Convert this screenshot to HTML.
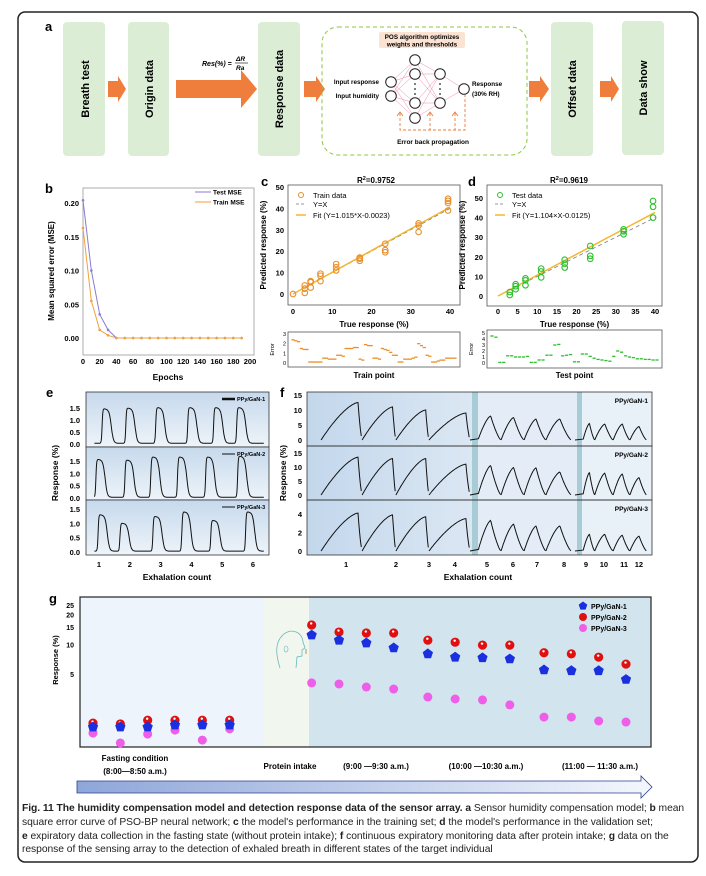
<!DOCTYPE html>
<html><head><meta charset="utf-8"><style>
body{margin:0;background:#fff}
svg{display:block}
text{font-family:"Liberation Sans",Arial,sans-serif}
#caption{position:absolute;left:22px;top:802px;width:672px;font-family:"Liberation Sans",Arial,sans-serif;font-size:10.3px;line-height:13.8px;color:#222;white-space:nowrap;letter-spacing:-0.05px}
</style></head><body>
<div style="position:relative;width:706px;height:876px">
<svg id="fig" width="706" height="876" viewBox="0 0 706 876">
<defs>
<linearGradient id="gE" x1="0" y1="0" x2="0" y2="1"><stop offset="0" stop-color="#c6d9ec"/><stop offset="1" stop-color="#eef4fa"/></linearGradient>
<linearGradient id="gF1" x1="0" y1="0" x2="1" y2="0"><stop offset="0" stop-color="#c3d7ec"/><stop offset="1" stop-color="#dbe7f3"/></linearGradient>
<linearGradient id="gArrow" x1="0" y1="0" x2="1" y2="0"><stop offset="0" stop-color="#8ea6d9"/><stop offset="1" stop-color="#f4f7fd"/></linearGradient>
</defs>
<rect x="18" y="12" width="680" height="850" rx="7" fill="none" stroke="#222" stroke-width="1.5"/>

<!-- Panel a -->
<g>
<text x="45" y="31" font-size="13" font-weight="bold">a</text>
<rect x="63" y="22" width="42" height="134" rx="4" fill="#dcedd6"/>
<text transform="translate(89,89) rotate(-90)" text-anchor="middle" font-size="11" font-weight="bold">Breath test</text>
<rect x="128" y="22" width="41" height="134" rx="4" fill="#dcedd6"/>
<text transform="translate(153,89) rotate(-90)" text-anchor="middle" font-size="11" font-weight="bold">Origin data</text>
<rect x="258" y="22" width="42" height="134" rx="4" fill="#dcedd6"/>
<text transform="translate(283,89) rotate(-90)" text-anchor="middle" font-size="11" font-weight="bold">Response data</text>
<rect x="551" y="22" width="42" height="134" rx="4" fill="#dcedd6"/>
<text transform="translate(576,89) rotate(-90)" text-anchor="middle" font-size="11" font-weight="bold">Offset data</text>
<rect x="622" y="21" width="42" height="134" rx="4" fill="#dcedd6"/>
<text transform="translate(647,88) rotate(-90)" text-anchor="middle" font-size="11" font-weight="bold">Data show</text>
<path d="M108,81 H118 V76 L126,89 L118,102 V97 H108 Z" fill="#ef7d3c"/>
<path d="M176,80 H241 V70 L257,89 L241,108 V98 H176 Z" fill="#ef7d3c"/>
<path d="M304,81 H316 V76 L325,89 L316,102 V97 H304 Z" fill="#ef7d3c"/>
<path d="M529,81 H540 V76 L549,89 L540,102 V97 H529 Z" fill="#ef7d3c"/>
<path d="M600,81 H611 V76 L619,89 L611,102 V97 H600 Z" fill="#ef7d3c"/>
<g font-size="7" font-weight="bold" font-style="italic">
<text x="202" y="66">Res(%) =</text>
<text x="236" y="61" font-size="6.5">ΔR</text>
<line x1="235" y1="63" x2="248" y2="63" stroke="#000" stroke-width="0.6"/>
<text x="236" y="70" font-size="6.5">Ra</text>
</g>
<rect x="322" y="27" width="205" height="128" rx="16" fill="none" stroke="#8cc63f" stroke-width="1" stroke-dasharray="4,3"/>
<rect x="379" y="32" width="86" height="16" rx="2" fill="#fbe3d3"/>
<text x="422" y="39" text-anchor="middle" font-size="6.3" font-weight="bold">POS algorithm optimizes</text>
<text x="422" y="46.5" text-anchor="middle" font-size="6.3" font-weight="bold">weights and thresholds</text>
<g id="net"></g>
<text x="379" y="84" text-anchor="end" font-size="6.3" font-weight="bold">Input response</text>
<text x="379" y="98" text-anchor="end" font-size="6.3" font-weight="bold">Input humidity</text>
<text x="472" y="86" font-size="6.3" font-weight="bold">Response</text>
<text x="472" y="96" font-size="6.3" font-weight="bold">(30% RH)</text>
<path d="M400,113 V130 H465 V95 M430,113 V130 M455,113 V130" fill="none" stroke="#ef7d3c" stroke-width="0.9" stroke-dasharray="3,2"/>
<path d="M397,116 L400,112 L403,116 M427,116 L430,112 L433,116 M452,116 L455,112 L458,116" fill="none" stroke="#ef7d3c" stroke-width="0.9"/>
<text x="433" y="144" text-anchor="middle" font-size="6.5" font-weight="bold">Error back propagation</text>
</g>

<g id="charts"></g>
</svg>
<div id="caption"><b>Fig. 11 The humidity compensation model and detection response data of the sensor array. a</b> Sensor humidity compensation model; <b>b</b> mean<br>square error curve of PSO-BP neural network; <b>c</b> the model's performance in the training set; <b>d</b> the model's performance in the validation set;<br><b>e</b> expiratory data collection in the fasting state (without protein intake); <b>f</b> continuous expiratory monitoring data after protein intake; <b>g</b> data on the<br>response of the sensing array to the detection of exhaled breath in different states of the target individual</div>
</div>
<script>
// ---------- data ----------
const bEpochs = [0,10,20,30,40,50,60,70,80,90,100,110,120,130,140,150,160,170,180,190];
const bTestMSE = [0.204,0.100,0.035,0.012,0,0,0,0,0,0,0,0,0,0,0,0,0,0,0,0];
const bTrainMSE = [0.163,0.055,0.012,0.004,0,0,0,0,0,0,0,0,0,0,0,0,0,0,0,0];
const bXTicks = [0,20,40,60,80,100,120,140,160,180,200];
const bYTicks = [0,0.05,0.10,0.15,0.20];

const cTrueX = [0,3,3,3,4.5,4.5,4.5,7,7,7,11,11,11,17,17,17,23.5,23.5,23.5,32,32,32,39.5,39.5,39.5,39.5];
const cPredY = [0,0.5,2.5,4,3,5.5,6,6,8.5,9.5,11,12.5,14,15.5,16.5,17,19.5,20.5,23.5,29,32,33,39,42.5,43.5,44.5];
const cFit = [1.015,-0.0023];
const cErr = [2.4,2.3,2.2,1.5,1.4,1.4,0.1,0.1,0.1,0.1,0.1,0.5,0.5,0.4,0.4,0.4,0.8,0.8,0.7,1.5,1.5,1.5,1.6,1.6,0.4,0.3,1.9,1.8,1.8,0.5,0.5,0.4,1.5,1.4,1.3,1.1,0.8,0.8,0.1,0.1,0.4,0.4,0.4,0.5,0.6,2.0,1.8,1.6,0.8,0.7,0.1,0.1,0.2,0.3,0.3,0.5,0.5,0.5,0.5];
const cXTicks = [0,10,20,30,40];
const cYTicks = [0,10,20,30,40,50];

const dTrueX = [3,3,4.5,4.5,4.5,7,7,7,11,11,11,17,17,17,23.5,23.5,23.5,32,32,32,39.5,39.5,39.5];
const dPredY = [0.5,2,3.5,5,6,5.5,8,9,9.5,12.5,14,14.5,16.5,18.5,19,20.5,25.5,31.5,33,34,40,45.5,48.5];
const dFit = [1.104,-0.0125];
const dErr = [4.5,4.3,0.1,0.1,1.2,1.2,1.0,1.0,1.0,1.1,0.1,0.1,0.5,0.5,1.3,1.3,3.0,3.1,1.2,1.3,1.4,0.2,0.2,1.5,1.5,1.1,0.8,0.6,0.5,0.4,0.3,1.1,2.0,1.8,1.2,1.0,0.9,0.7,0.7,0.6,0.6,0.5,0.5];
const dXTicks = [0,5,10,15,20,25,30,35,40];
const dYTicks = [0,10,20,30,40,50];

const eCenters1 = [1.26,2.03,3.0,4.04,4.88,5.63];
const ePeaks1 = [1.45,1.48,1.5,1.5,1.5,1.5];
const eCenters2 = [1.06,2.0,2.84,3.71,4.62,5.66];
const ePeaks2 = [1.55,1.52,1.65,1.65,1.65,1.68];
const eCenters3 = [1.13,1.84,2.91,3.85,4.79,5.92];
const ePeaks3 = [1.28,0.98,1.22,1.38,1.08,1.38];
const eXTicks = [1,2,3,4,5,6];
const eYTicks = [0,0.5,1.0,1.5];

const fValleys = [0.08,1.16,2.05,2.92,4.0,4.95,5.9,6.8,7.85,8.0,8.7,9.8,10.8,11.8];
const fPeaks1 = [12.5,11,10,9,8,7.5,7,7,5.5,5.3,5.3,4.5];
const fPeaks2 = [13.5,13,13,11,10.5,9.8,9.7,8.2,8,7.8,7.5,6.2];
const fPeaks3 = [4.1,3.9,3.7,3.5,3.3,2.9,2.7,2.7,1.8,1.8,1.7,1.6];
const fTickT = [0.74,2.05,2.92,3.6,4.37,5.44,6.43,7.55,8.18,9.25,10.45,11.34];
const fTickLabels = ['1','2','3','4','5','6','7','8','9','10','11','12'];

const gRed = [1.59,1.56,1.70,1.70,1.70,1.70,15.7,13.3,13.0,13.0,11.0,10.5,9.8,9.8,8.2,8.0,7.4,6.3];
const gBlue = [1.45,1.45,1.45,1.52,1.52,1.52,12.4,11.0,10.3,9.2,8.0,7.4,7.3,7.1,5.5,5.4,5.4,4.4];
const gMagenta = [1.26,1.0,1.23,1.35,1.07,1.39,4.06,3.96,3.69,3.52,2.92,2.79,2.73,2.43,1.83,1.83,1.67,1.63];
const gSlots = [0,1,2,3,4,5,8,9,10,11,12.25,13.25,14.25,15.25,16.5,17.5,18.5,19.5];
const gYTicks = [5,10,15,20,25];

// ---------- helpers ----------
const NS='http://www.w3.org/2000/svg';
const root=document.getElementById('charts');
function mk(parent,tag,attrs,name){
  const el=document.createElementNS(NS,tag);
  for(const k in attrs) el.setAttribute(k,attrs[k]);
  
  
  parent.appendChild(el);
  return el;
}
function txt(parent,x,y,s,size,anchor,name,bold=true,rot=0){
  const el=mk(parent,'text',{x:x,y:y,'font-size':size,'text-anchor':anchor,'font-weight':bold?'bold':'normal'},name);
  if(rot) el.setAttribute('transform',`rotate(${rot} ${x} ${y})`);
  el.textContent=s;
  return el;
}
function fmt(v,d){return v.toFixed(d);}

// ---------- neural net in panel a ----------
(function(){
  const net=document.getElementById('net');
  const L0=[[391,82],[391,96]], L1=[[415,60],[415,74],[415,103],[415,118]], L2=[[440,74],[440,103]], L3=[[464,89]];
  const conn=(A,B)=>{A.forEach(a=>B.forEach(b=>{mk(net,'line',{x1:a[0],y1:a[1],x2:b[0],y2:b[1],stroke:'#ee8ca8','stroke-width':0.5},'net-connection');}));};
  conn(L0,L1);conn(L1,L2);conn(L2,L3);
  [L0,L1,L2,L3].forEach(L=>L.forEach(p=>{mk(net,'circle',{cx:p[0],cy:p[1],r:5.3,fill:'#fff',stroke:'#222','stroke-width':1},'net-node');}));
  [[415,84],[415,89],[415,94],[440,84],[440,89],[440,94]].forEach(p=>{mk(net,'circle',{cx:p[0],cy:p[1],r:0.9,fill:'#222'},'net-ellipsis-dot');});
})();

// ---------- panel b ----------
(function(){
  const g=mk(root,'g',{},'panel-b');
  txt(g,45,193,'b',13,'start','panel-label-b');
  const xb=v=>83+v*(250-83)/200, yb=v=>338-v*(338-203)/0.2;
  mk(g,'rect',{x:83,y:188,width:171,height:167,fill:'none',stroke:'#999','stroke-width':0.8},'plot-frame-b');
  bXTicks.forEach(t=>txt(g,xb(t),364,String(t),7.5,'middle','x-tick-b'));
  bYTicks.forEach(t=>txt(g,79,yb(t)+3,fmt(t,2),7.5,'end','y-tick-b'));
  txt(g,168,380,'Epochs',8.5,'middle','x-axis-title-b');
  txt(g,54,271,'Mean squared error (MSE)',8,'middle','y-axis-title-b',true,-90);
  const line=(arr,col,name)=>{
    mk(g,'polyline',{points:bEpochs.map((e,i)=>xb(e)+','+yb(arr[i])).join(' '),fill:'none',stroke:col,'stroke-width':1},name);
    bEpochs.forEach((e,i)=>{mk(g,'circle',{cx:xb(e),cy:yb(arr[i]),r:1.3,fill:col},name+'-point');});
  };
  line(bTestMSE,'#8a7bd6','test-mse-line');
  line(bTrainMSE,'#f0a23c','train-mse-line');
  mk(g,'line',{x1:195,y1:192,x2:211,y2:192,stroke:'#8a7bd6','stroke-width':1},'legend-test-mse-line');
  mk(g,'line',{x1:195,y1:202,x2:211,y2:202,stroke:'#f0a23c','stroke-width':1},'legend-train-mse-line');
  txt(g,213,194.5,'Test MSE',6.5,'start','legend-test-mse');
  txt(g,213,204.5,'Train MSE',6.5,'start','legend-train-mse');
})();

// ---------- panels c,d ----------
function scatterPanel(o){
  const g=mk(root,'g',{},o.name);
  txt(g,o.labelX,186,o.letter,13,'start','panel-label-'+o.letter);
  const t=txt(g,o.titleX,183,'R',8,'middle','r2-title-'+o.letter);
  const sup=document.createElementNS(NS,'tspan');sup.setAttribute('dy','-3');sup.setAttribute('font-size','5.5');sup.textContent='2';t.appendChild(sup);
  const rest=document.createElementNS(NS,'tspan');rest.setAttribute('dy','3');rest.textContent='='+o.r2;t.appendChild(rest);
  const X=v=>o.x0+v*(o.x40-o.x0)/40, Y=v=>o.y0-v*(o.y0-o.y50)/50;
  mk(g,'rect',{x:o.bx,y:185,width:o.bw,height:o.bh,fill:'none',stroke:'#555','stroke-width':0.8},'plot-frame-'+o.letter);
  o.xTicks.forEach(v=>txt(g,X(v),314,String(v),7.5,'middle','x-tick-'+o.letter));
  o.yTicks.forEach(v=>txt(g,o.bx-4,Y(v)+3,String(v),7.5,'end','y-tick-'+o.letter));
  txt(g,o.bx+o.bw/2,327,'True response (%)',8,'middle','x-axis-title-'+o.letter);
  txt(g,o.bx-22,245,'Predicted response (%)',8,'middle','y-axis-title-'+o.letter,true,-90);
  mk(g,'line',{x1:X(0),y1:Y(0),x2:X(40),y2:Y(40),stroke:'#777','stroke-width':0.8,'stroke-dasharray':'4,3'},'identity-line-'+o.letter);
  mk(g,'line',{x1:X(0),y1:Y(o.fit[1]),x2:X(40),y2:Y(o.fit[0]*40+o.fit[1])-(o.letter==='d'?-3:0),stroke:'#f3b730','stroke-width':1.5},'fit-line-'+o.letter);
  o.xs.forEach((x,i)=>{mk(g,'circle',{cx:X(x),cy:Y(o.ys[i]),r:2.8,fill:'none',stroke:o.col,'stroke-width':1.1},'data-point-'+o.letter);});
  const lx=o.bx+13;
  mk(g,'circle',{cx:lx,cy:195,r:2.5,fill:'none',stroke:o.col,'stroke-width':1},'legend-marker-'+o.letter);
  txt(g,lx+12,198,o.dataLabel,7.5,'start','legend-data-'+o.letter,false);
  mk(g,'line',{x1:lx-5,y1:204,x2:lx+5,y2:204,stroke:'#777','stroke-width':0.8,'stroke-dasharray':'3,2'},'legend-identity-'+o.letter);
  txt(g,lx+12,207,'Y=X',7.5,'start','legend-identity-label-'+o.letter,false);
  mk(g,'line',{x1:lx-5,y1:215,x2:lx+5,y2:215,stroke:'#f3b730','stroke-width':1.5},'legend-fit-'+o.letter);
  txt(g,lx+12,218,o.fitLabel,7.5,'start','legend-fit-label-'+o.letter,false);
  mk(g,'rect',{x:o.bx,y:o.ey0,width:o.bw,height:o.eh,fill:'none',stroke:'#555','stroke-width':0.8},'error-frame-'+o.letter);
  const EY=v=>363-v*o.eScale;
  o.eTicks.forEach(v=>txt(g,o.bx-2,EY(v)+2,String(v),5.5,'end','error-y-tick-'+o.letter,false));
  txt(g,o.bx-14,o.ey0+o.eh/2,'Error',5.5,'middle','error-y-title-'+o.letter,false,-90);
  const n=o.err.length, EX=i=>o.bx+5+i*(o.bw-10)/(n-1);
  o.err.forEach((v,i)=>{mk(g,'line',{x1:EX(i)-1.6,y1:EY(v),x2:EX(i)+1.6,y2:EY(v),stroke:o.col,'stroke-width':1.3},'error-mark-'+o.letter);});
  txt(g,o.bx+o.bw/2,378,o.pointLabel,8,'middle','error-x-title-'+o.letter);
}
scatterPanel({name:'panel-c',letter:'c',labelX:261,titleX:376,r2:'0.9752',x0:293,x40:450,y0:294,y50:187,bx:288,bw:172,bh:120,
  xTicks:cXTicks,yTicks:cYTicks,xs:cTrueX,ys:cPredY,fit:cFit,col:'#ea8f2a',dataLabel:'Train data',fitLabel:'Fit (Y=1.015*X-0.0023)',
  ey0:332,eh:35,eScale:29/3,eTicks:[0,1,2,3],err:cErr,pointLabel:'Train point'});
scatterPanel({name:'panel-d',letter:'d',labelX:468,titleX:569,r2:'0.9619',x0:498,x40:655,y0:296,y50:198,bx:487,bw:175,bh:121,
  xTicks:dXTicks,yTicks:dYTicks,xs:dTrueX,ys:dPredY,fit:dFit,col:'#2dbf2d',dataLabel:'Test data',fitLabel:'Fit (Y=1.104×X-0.0125)',
  ey0:330,eh:38,eScale:6,eTicks:[0,1,2,3,4,5],err:dErr,pointLabel:'Test point'});

// ---------- panel e ----------
(function(){
  const g=mk(root,'g',{},'panel-e');
  txt(g,46,397,'e',13,'start','panel-label-e');
  const xe=t=>99+(t-1)*30.8;
  const subs=[{top:392,bot:447,y0:444,k:24,c:eCenters1,p:ePeaks1,lab:'PPy/GaN-1'},
              {top:447,bot:500,y0:498,k:24.67,c:eCenters2,p:ePeaks2,lab:'PPy/GaN-2'},
              {top:500,bot:555,y0:552,k:28.7,c:eCenters3,p:ePeaks3,lab:'PPy/GaN-3'}];
  subs.forEach((s,si)=>{
    mk(g,'rect',{x:86,y:s.top,width:183,height:s.bot-s.top,fill:'url(#gE)',stroke:'#333','stroke-width':0.8},'subplot-frame-e'+(si+1));
    eYTicks.forEach(v=>txt(g,80,s.y0-v*s.k+3,fmt(v,1),7.5,'end','y-tick-e'));
    const pts=[];
    for(let t=0.85;t<=6.35;t+=0.01){
      let y=0.03;
      s.c.forEach((c,i)=>{const a=1/(1+Math.exp(-(t-(c-0.16))/0.012)), b=1/(1+Math.exp((t-(c+0.14))/0.035));y+=s.p[i]*a*b*(1-0.12*Math.max(0,t-c+0.16));});
      pts.push(xe(t).toFixed(1)+','+(s.y0-y*s.k).toFixed(1));
    }
    mk(g,'polyline',{points:pts.join(' '),fill:'none',stroke:'#111','stroke-width':1},'response-curve-e'+(si+1));
    mk(g,'line',{x1:222,y1:s.top+7,x2:235,y2:s.top+7,stroke:'#111','stroke-width':si===0?2.5:1},'legend-line-e'+(si+1));
    txt(g,237,s.top+9,s.lab,5.5,'start','legend-label-e'+(si+1));
  });
  eXTicks.forEach(t=>txt(g,xe(t),567,String(t),7.5,'middle','x-tick-e'));
  txt(g,177,580,'Exhalation count',8.5,'middle','x-axis-title-e');
  txt(g,58,473,'Response (%)',8.5,'middle','y-axis-title-e',true,-90);
})();

// ---------- panel f ----------
(function(){
  const g=mk(root,'g',{},'panel-f');
  txt(g,280,397,'f',13,'start','panel-label-f');
  const xf=t=>t<=4?318+t*38:(t<=8?478+(t-4)*24.25:583+(t-8)*16.75);
  mk(g,'rect',{x:307,y:392,width:165,height:163,fill:'url(#gF1)'},'section-bg-1');
  mk(g,'rect',{x:472,y:392,width:6,height:163,fill:'#a8ccd6'},'break-band-1');
  mk(g,'rect',{x:478,y:392,width:99,height:163,fill:'#e4edf7'},'section-bg-2');
  mk(g,'rect',{x:577,y:392,width:5,height:163,fill:'#a8ccd6'},'break-band-2');
  mk(g,'rect',{x:582,y:392,width:70,height:163,fill:'#e8f0f8'},'section-bg-3');
  const subs=[{top:392,bot:446,y0:440,k:3,p:fPeaks1,ticks:[0,5,10,15],lab:'PPy/GaN-1'},
              {top:446,bot:500,y0:495,k:2.8,p:fPeaks2,ticks:[0,5,10,15],lab:'PPy/GaN-2'},
              {top:500,bot:555,y0:551,k:9.25,p:fPeaks3,ticks:[0,2,4],lab:'PPy/GaN-3'}];
  subs.forEach((s,si)=>{
    mk(g,'rect',{x:307,y:s.top,width:345,height:s.bot-s.top,fill:'none',stroke:'#333','stroke-width':0.8},'subplot-frame-f'+(si+1));
    s.ticks.forEach(v=>txt(g,302,s.y0-v*s.k+3,String(v),7.5,'end','y-tick-f'));
    txt(g,648,s.top+11,s.lab,6.5,'end','legend-label-f'+(si+1));
    let ci=0;
    for(let k=0;k<fValleys.length-1;k++){
      const a=fValleys[k], b=fValleys[k+1];
      if(a===7.85) continue;
      const peak=s.p[ci++]; if(peak===undefined) break;
      const p=a<4?0.9:0.55, pts=[];
      for(let u=0;u<=1.0001;u+=0.02){
        const v=u<p?peak*(1-Math.pow(1-u/p,1.5)):peak*Math.pow(1-(u-p)/(1-p),1.4);
        pts.push(xf(a+u*(b-a)).toFixed(1)+','+(s.y0-v*s.k).toFixed(1));
      }
      mk(g,'polyline',{points:pts.join(' '),fill:'none',stroke:'#111','stroke-width':1},'response-cycle-f'+(si+1));
    }
  });
  fTickT.forEach((t,i)=>txt(g,xf(t),567,fTickLabels[i],7.5,'middle','x-tick-f'));
  txt(g,478,580,'Exhalation count',8.5,'middle','x-axis-title-f');
  txt(g,286,473,'Response (%)',8.5,'middle','y-axis-title-f',true,-90);
})();

// ---------- panel g ----------
(function(){
  const g=mk(root,'g',{},'panel-g');
  txt(g,49,603,'g',13,'start','panel-label-g');
  const yg=v=>605+(Math.log10(25)-Math.log10(v))*98.7;
  const xg=s=>93+s*(626-93)/19.5;
  mk(g,'rect',{x:80,y:597,width:184,height:150,fill:'#eef4fb'},'fasting-region');
  mk(g,'rect',{x:264,y:597,width:45,height:150,fill:'#f1f6ee'},'protein-intake-region');
  mk(g,'rect',{x:309,y:597,width:342,height:150,fill:'#d2e5ee'},'post-intake-region');
  mk(g,'rect',{x:80,y:597,width:571,height:150,fill:'none',stroke:'#222','stroke-width':1.2},'plot-frame-g');
  gYTicks.forEach(v=>txt(g,74,yg(v)+3,String(v),7,'end','y-tick-g'));
  txt(g,58,660,'Response (%)',7.5,'middle','y-axis-title-g',true,-90);
  mk(g,'path',{d:'M280,668 C276,655 274,642 284,634 C292,628 302,632 303,642 L305,648 L302,650 L302,656 L297,657 L296,668',fill:'none',stroke:'#6bb8bd','stroke-width':0.8},'head-icon');
  mk(g,'path',{d:'M286,646 a2,3 0 1,0 0.1,0',fill:'none',stroke:'#6bb8bd','stroke-width':0.6},'head-ear');
  mk(g,'rect',{x:305,y:649,width:2,height:5,fill:'#d9c49a'},'breath-cue');
  const pent=(cx,cy,r)=>{let d='';for(let i=0;i<5;i++){const a=-Math.PI/2+i*2*Math.PI/5;d+=(i?'L':'M')+(cx+r*Math.cos(a)).toFixed(1)+','+(cy+r*Math.sin(a)).toFixed(1);}return d+'Z';};
  gSlots.forEach((s,i)=>{
    mk(g,'circle',{cx:xg(s),cy:yg(gMagenta[i]),r:4.5,fill:'#ef5ee8'},'ppy-gan-3-point');
    mk(g,'circle',{cx:xg(s),cy:yg(gRed[i]),r:4.6,fill:'#e01010'},'ppy-gan-2-point');
    mk(g,'circle',{cx:xg(s)-0.5,cy:yg(gRed[i])-1.5,r:1.2,fill:'#fff'},'ppy-gan-2-highlight');
    mk(g,'path',{d:pent(xg(s),yg(gBlue[i]),5.4),fill:'#1a2fe0'},'ppy-gan-1-point');
  });
  mk(g,'path',{d:pent(583,606,4.5),fill:'#1a2fe0'},'legend-marker-g1');
  mk(g,'circle',{cx:583,cy:617,r:4,fill:'#e01010'},'legend-marker-g2');
  mk(g,'circle',{cx:583,cy:628,r:4,fill:'#ef5ee8'},'legend-marker-g3');
  txt(g,591,609,'PPy/GaN-1',7,'start','legend-label-g1');
  txt(g,591,620,'PPy/GaN-2',7,'start','legend-label-g2');
  txt(g,591,631,'PPy/GaN-3',7,'start','legend-label-g3');
  txt(g,135,761,'Fasting condition',8,'middle','fasting-label');
  txt(g,135,774,'(8:00—8:50 a.m.)',8,'middle','fasting-time-label');
  txt(g,290,769,'Protein intake',8,'middle','protein-intake-label');
  txt(g,376,769,'(9:00 —9:30 a.m.)',8,'middle','time-label-1');
  txt(g,486,769,'(10:00 —10:30 a.m.)',8,'middle','time-label-2');
  txt(g,600,769,'(11:00 — 11:30 a.m.)',8,'middle','time-label-3');
  mk(g,'path',{d:'M77,781 H641 V776 L652,787 L641,798 V793 H77 Z',fill:'url(#gArrow)',stroke:'#2d3f8a','stroke-width':0.8},'timeline-arrow');
})();
</script>
</body></html>
